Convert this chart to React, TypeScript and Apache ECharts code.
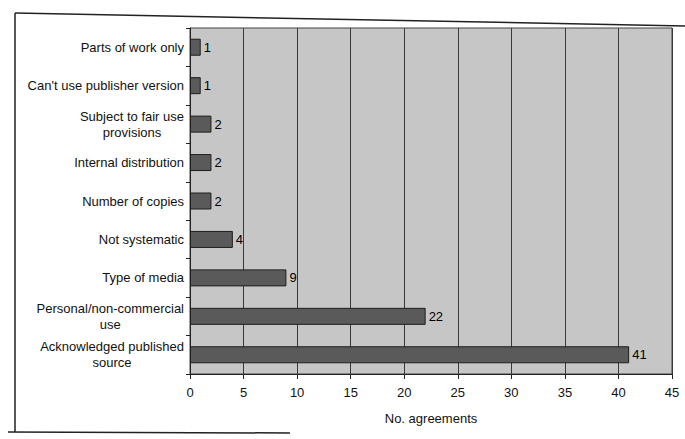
import React, { useEffect, useRef } from "react";
import * as echarts from "echarts";

const categories = [
  "Parts of work only",
  "Can't use publisher version",
  "Subject to fair use\nprovisions",
  "Internal distribution",
  "Number of copies",
  "Not systematic",
  "Type of media",
  "Personal/non-commercial\nuse",
  "Acknowledged published\nsource",
];
const values = [1, 1, 2, 2, 2, 4, 9, 22, 41];
const xTicks = { min: 0, max: 45, interval: 5 };
const xAxisName = "No. agreements";

export default function App() {
  const ref = useRef<HTMLDivElement>(null);
  useEffect(() => {
    if (!ref.current) return;
    const chart = echarts.init(ref.current, null, { renderer: "svg" });
    const font = "'Liberation Sans', Arial, sans-serif";
    chart.setOption({
      animation: false,
      backgroundColor: "#ffffff",
      textStyle: { fontFamily: font },
      grid: {
        left: 190,
        right: 13,
        top: 28,
        bottom: 65,
        show: true,
        backgroundColor: "#c6c6c6",
        borderColor: "#444",
        borderWidth: 1,
      },
      xAxis: {
        type: "value",
        min: xTicks.min,
        max: xTicks.max,
        interval: xTicks.interval,
        name: xAxisName,
        nameLocation: "middle",
        nameGap: 38,
        nameTextStyle: { fontFamily: font, fontSize: 13, color: "#111" },
        axisLine: { show: true, lineStyle: { color: "#222", width: 1 } },
        axisTick: { show: true, length: 5, lineStyle: { color: "#222" } },
        axisLabel: { fontFamily: font, fontSize: 13, color: "#111", margin: 12 },
        splitLine: { show: true, lineStyle: { color: "#3a3a3a", width: 1 } },
      },
      yAxis: {
        type: "category",
        data: categories,
        inverse: true,
        axisLine: { show: true, lineStyle: { color: "#222", width: 1 } },
        axisTick: { show: true, length: 4, lineStyle: { color: "#222" } },
        axisLabel: {
          fontFamily: font,
          fontSize: 13,
          color: "#111",
          margin: 6,
          lineHeight: 16,
          formatter: (v: string) =>
            v
              .split("\n")
              .map((l) => "{c|" + l + "}")
              .join("\n"),
          rich: {
            c: { align: "center", fontFamily: font, fontSize: 13, color: "#111", lineHeight: 16 },
          },
        },
        splitLine: { show: false },
      },
      series: [
        {
          type: "bar",
          data: values,
          barWidth: 17,
          itemStyle: { color: "#5a5a5a", borderColor: "#1e1e1e", borderWidth: 1 },
          label: {
            show: true,
            position: "right",
            distance: 3,
            fontFamily: font,
            fontSize: 13,
            color: "#000",
          },
        },
      ],
      graphic: [
        {
          type: "line",
          shape: { x1: 15, y1: 13, x2: 685, y2: 26 },
          style: { stroke: "#222", lineWidth: 1.5 },
          silent: true,
        },
        {
          type: "line",
          shape: { x1: 15, y1: 13, x2: 15, y2: 432 },
          style: { stroke: "#222", lineWidth: 1.5 },
          silent: true,
        },
        {
          type: "line",
          shape: { x1: 8, y1: 432, x2: 290, y2: 433 },
          style: { stroke: "#222", lineWidth: 1.5 },
          silent: true,
        },
      ],
    });
    return () => chart.dispose();
  }, []);
  return <div ref={ref} style={{ width: 685, height: 439, position: "absolute", left: 0, top: 0 }} />;
}
